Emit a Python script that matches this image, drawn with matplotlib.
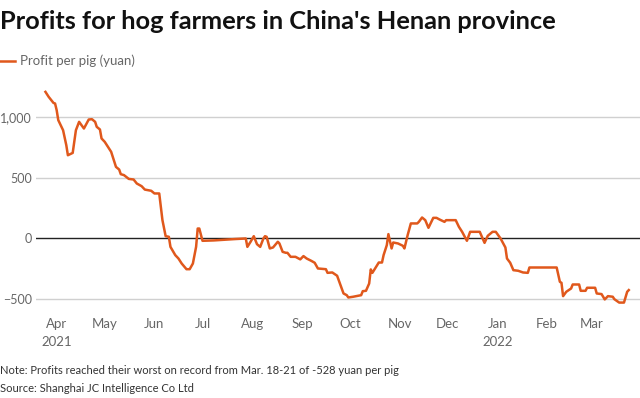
import pandas as pd
import matplotlib.pyplot as plt
import matplotlib.dates as mdates
from matplotlib.ticker import FuncFormatter

plt.rcParams['font.family'] = ['Lato', 'DejaVu Sans']

# values (yuan per pig)
dates = [
    "2021-03-25", "2021-03-27", "2021-03-30", "2021-03-31", "2021-04-01", "2021-04-02",
    "2021-04-05", "2021-04-07", "2021-04-08", "2021-04-11", "2021-04-13", "2021-04-15",
    "2021-04-18", "2021-04-21", "2021-04-23", "2021-04-25", "2021-04-26", "2021-04-28",
    "2021-04-29", "2021-05-01", "2021-05-05", "2021-05-08", "2021-05-10", "2021-05-11",
    "2021-05-13", "2021-05-16", "2021-05-19", "2021-05-21", "2021-05-24", "2021-05-26",
    "2021-05-30", "2021-06-01", "2021-06-04", "2021-06-06", "2021-06-08", "2021-06-10",
    "2021-06-11", "2021-06-14", "2021-06-16", "2021-06-18", "2021-06-21", "2021-06-23",
    "2021-06-25", "2021-06-27", "2021-06-28", "2021-06-29", "2021-07-01", "2021-07-08",
    "2021-07-21", "2021-07-28", "2021-07-29", "2021-07-31", "2021-08-02", "2021-08-04",
    "2021-08-06", "2021-08-08", "2021-08-09", "2021-08-10", "2021-08-12", "2021-08-14",
    "2021-08-17", "2021-08-18", "2021-08-20", "2021-08-22", "2021-08-23", "2021-08-25",
    "2021-08-28", "2021-08-31", "2021-09-02", "2021-09-04", "2021-09-07", "2021-09-09",
    "2021-09-11", "2021-09-16", "2021-09-17", "2021-09-20", "2021-09-23", "2021-09-24",
    "2021-09-27", "2021-09-29", "2021-09-30", "2021-10-03", "2021-10-08", "2021-10-09",
    "2021-10-11", "2021-10-13", "2021-10-14", "2021-10-15", "2021-10-18", "2021-10-19",
    "2021-10-21", "2021-10-22", "2021-10-24", "2021-10-25", "2021-10-27", "2021-10-28",
    "2021-10-31", "2021-11-03", "2021-11-04", "2021-11-06", "2021-11-08", "2021-11-12",
    "2021-11-13", "2021-11-15", "2021-11-17", "2021-11-19", "2021-11-22", "2021-11-24",
    "2021-11-26", "2021-11-29", "2021-11-30", "2021-12-06", "2021-12-08", "2021-12-10",
    "2021-12-13", "2021-12-15", "2021-12-21", "2021-12-24", "2021-12-26", "2021-12-29",
    "2021-12-31", "2022-01-03", "2022-01-06", "2022-01-07", "2022-01-09", "2022-01-11",
    "2022-01-14", "2022-01-17", "2022-01-20", "2022-01-21", "2022-02-07", "2022-02-09",
    "2022-02-10", "2022-02-11", "2022-02-13", "2022-02-16", "2022-02-17", "2022-02-21",
    "2022-02-22", "2022-02-25", "2022-02-26", "2022-03-03", "2022-03-04", "2022-03-07",
    "2022-03-09", "2022-03-11", "2022-03-14", "2022-03-15", "2022-03-18", "2022-03-21",
    "2022-03-23", "2022-03-24",
]
profit = [
    1208, 1167, 1117, 1112, 1057, 975,
    892, 769, 686, 705, 892, 961,
    906, 980, 983, 961, 920, 898,
    824, 796, 714, 590, 568, 530,
    522, 491, 486, 453, 431, 403,
    393, 371, 371, 151, 19, 14,
    -69, -137, -165, -206, -253, -253,
    -206, -69, 82, 82, -19, -16,
    -5, 0, -69, -27, 19, -47,
    -69, 0, 19, 14, -82, -74,
    -27, -41, -110, -118, -118, -151,
    -151, -172, -145, -165, -185, -200,
    -247, -253, -283, -280, -307, -343,
    -453, -467, -486, -480, -467, -434,
    -431, -371, -255, -283, -220, -198,
    -198, -137, -55, 36, -82, -33,
    -41, -60, -82, 27, 124, 124,
    137, 173, 151, 88, 170, 170,
    156, 137, 151, 151, 96, 55,
    -19, 55, 55, -36, 22, 55,
    55, 0, -74, -165, -200, -261,
    -266, -280, -283, -239, -239, -357,
    -365, -475, -439, -412, -379, -379,
    -431, -431, -406, -406, -453, -458,
    -502, -475, -480, -500, -528, -528,
    -439, -425,
]

yticks = [-500, 0, 500, 1000]
title = "Profits for hog farmers in China's Henan province"
series_name = "Profit per pig (yuan)"
note = "Note: Profits reached their worst on record from Mar. 18-21 of -528 yuan per pig"
source = "Source: Shanghai JC Intelligence Co Ltd"

orange = '#E0581C'
grey_text = '#666666'

x = pd.to_datetime(dates)

fig = plt.figure(figsize=(6.4, 3.98), dpi=100)
ax = fig.add_axes([0.056, 0.23, 0.944, 0.552])

for v in yticks:
    if v == 0:
        ax.axhline(v, color='#222222', lw=1.0, zorder=2)
    else:
        ax.axhline(v, color='#d0d0d0', lw=1.0, zorder=1)

ax.plot(x, profit, color=orange, lw=1.8, zorder=3, solid_joinstyle='round')

ax.set_ylim(-560, 1250)
ax.set_xlim(pd.Timestamp("2021-03-19"), pd.Timestamp("2022-03-31"))
ax.set_yticks(yticks)
ax.yaxis.set_major_formatter(FuncFormatter(lambda v, p: f"{int(v):,}".replace('-', '\u2212')))

ax.xaxis.set_major_locator(mdates.MonthLocator())
def month_fmt(v, p):
    d = mdates.num2date(v)
    lab = d.strftime('%b')
    if d.month == 4 and d.year == 2021 or d.month == 1:
        lab += '\n' + str(d.year)
    return lab
ax.xaxis.set_major_formatter(FuncFormatter(month_fmt))

ax.tick_params(axis='both', length=0, labelcolor=grey_text)
ax.tick_params(axis='x', pad=8, labelsize=9.5)
ax.tick_params(axis='y', pad=3, labelsize=9)
for lab in ax.get_xticklabels():
    lab.set_linespacing(1.6)
for s in ax.spines.values():
    s.set_visible(False)

fig.text(0.0, 0.945, title, fontsize=18.3, fontweight='bold', color='#111111', va='center', ha='left')
fig.add_artist(plt.Line2D([0.0, 0.024], [0.847, 0.847], color=orange, lw=1.8, transform=fig.transFigure))
fig.text(0.032, 0.847, series_name, fontsize=9.5, color=grey_text, va='center', ha='left')
fig.text(0.0, 0.07, note, fontsize=8, color='#333333', va='center', ha='left')
fig.text(0.0, 0.025, source, fontsize=8, color='#333333', va='center', ha='left')

fig.savefig('out.png', dpi=100, facecolor='white')
